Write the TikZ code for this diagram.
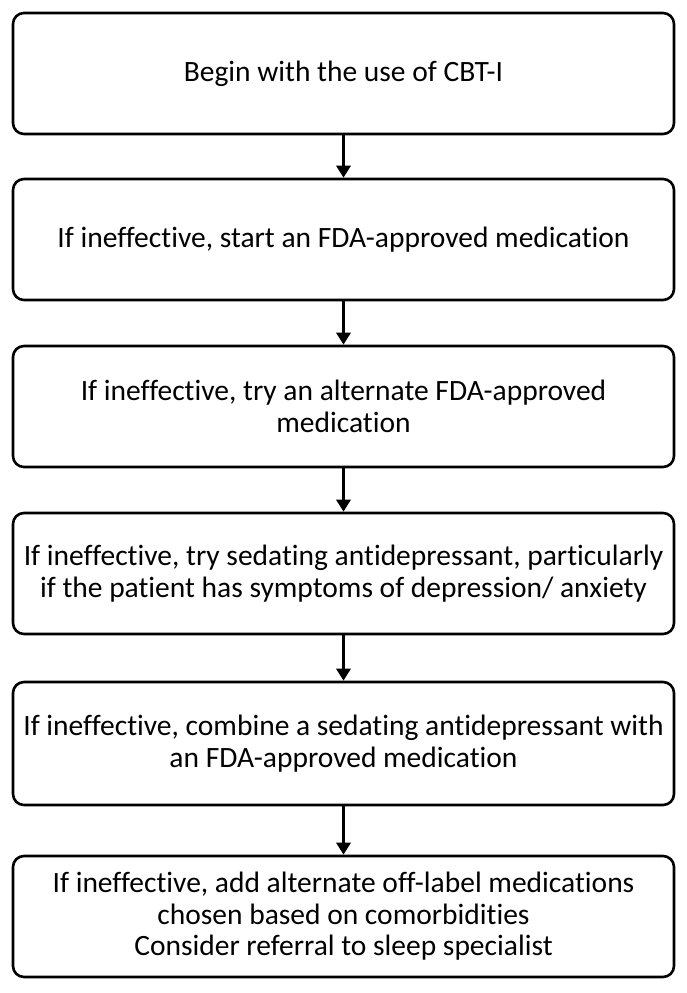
\documentclass[tikz,border=0pt]{standalone}
\usepackage{fontspec}
\setmainfont{Carlito}[Ligatures={NoCommon}]
\usetikzlibrary{arrows.meta}
\tikzset{
	stepbox/.style={draw=black, line width=2.6pt, rounded corners=11pt, minimum width=661pt, minimum height=121pt, align=center, font=\fontsize{29.5}{31.5}\selectfont, fill=white},
	flow/.style={line width=3pt, -{Triangle[width=14pt, length=12pt]}}
}
\begin{document}
\begin{tikzpicture}[x=1pt, y=-1pt]
			\useasboundingbox (0,0) rectangle (687,993);
			%Boxes
			\node[stepbox] (cbt) at (343.5,73.5) {Begin with the use of CBT-I};
			\node[stepbox] (fda) at (343.5,239.5) {If ineffective, start an FDA-approved medication};
			\node[stepbox] (alt) at (343.5,406.5) {If ineffective, try an alternate FDA-approved\\medication};
			\node[stepbox] (sed) at (343.5,573.5) {If ineffective, try sedating antidepressant, particularly\\if the patient has symptoms of depression/ anxiety};
			\node[stepbox, minimum height=123pt] (comb) at (343.5,743.5) {If ineffective, combine a sedating antidepressant with\\an FDA-approved medication};
			\node[stepbox] (off) at (343.5,916.5) {If ineffective, add alternate off-label medications\\chosen based on comorbidities\\Consider referral to sleep specialist};
			%Arrows
			\draw[flow] (cbt.south) -- (fda.north);
			\draw[flow] (fda.south) -- (alt.north);
			\draw[flow] (alt.south) -- (sed.north);
			\draw[flow] (sed.south) -- (comb.north);
			\draw[flow] (comb.south) -- (off.north);
\end{tikzpicture}
\end{document}
